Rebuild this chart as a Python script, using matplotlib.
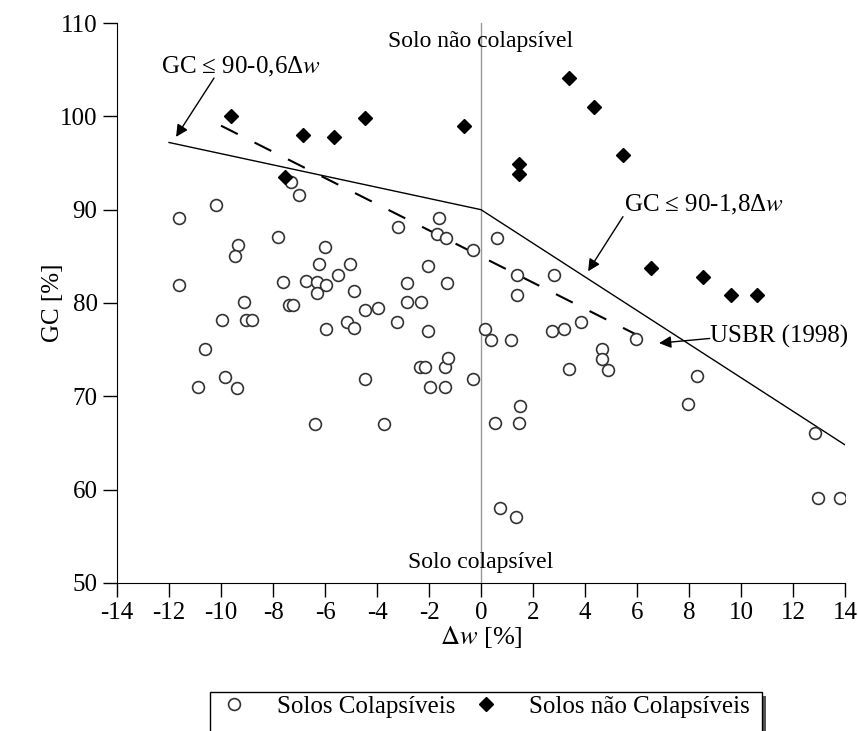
import matplotlib
matplotlib.use("Agg")
import matplotlib.pyplot as plt
from matplotlib.patches import Rectangle

plt.rcParams['font.family'] = ['Liberation Serif', 'DejaVu Serif']
plt.rcParams['mathtext.fontset'] = 'stix'
plt.rcParams['axes.unicode_minus'] = False

###### Data: moisture deviation (dw) vs compaction degree (GC)
colap_dw = [-11.6, -11.6, -10.2, -10.6, -10.9, -9.85, -9.4, -9.95, -9.35, -9.45,
            -9.1, -9.05, -8.8, -7.8, -7.6, -7.4, -7.25, -7.3, -7.0, -6.75,
            -6.3, -6.3, -6.25, -6.0, -5.95, -5.5, -5.05, -4.9, -5.15, -4.9,
            -5.95, -6.4, -4.45, -3.95, -4.45, -3.25, -3.2, -3.75, -2.85, -2.85,
            -2.3, -2.35, -2.15, -2.05, -2.05, -1.95, -1.6, -1.7, -1.35, -1.3,
            -1.4, -1.25, -1.4, -0.3, -0.3, 0.6, 0.15, 0.4, 1.15, 1.4,
            1.4, 2.8, 2.75, 3.2, 3.85, 1.5, 0.55, 1.45, 0.75, 1.35,
            3.4, 4.65, 4.65, 4.9, 5.95, 8.3, 7.95, 12.85, 12.95, 13.8]
colap_gc = [89.1, 81.9, 90.5, 75.1, 71.0, 72.1, 70.9, 78.2, 86.2, 85.0,
            80.1, 78.2, 78.2, 87.1, 82.2, 79.8, 79.8, 93.0, 91.6, 82.4,
            82.2, 81.1, 84.2, 86.0, 81.9, 83.0, 84.2, 81.3, 78.0, 77.3,
            77.2, 67.0, 79.3, 79.5, 71.9, 78.0, 88.1, 67.0, 82.1, 80.1,
            80.1, 73.1, 73.1, 84.0, 77.0, 71.0, 89.1, 87.4, 87.0, 82.1,
            73.1, 74.1, 71.0, 71.9, 85.7, 87.0, 77.2, 76.0, 76.0, 83.0,
            80.9, 83.0, 77.0, 77.2, 78.0, 69.0, 67.1, 67.1, 58.0, 57.1,
            72.9, 75.1, 74.0, 72.8, 76.1, 72.2, 69.2, 66.1, 59.1, 59.1]

ncolap_dw = [-9.6, -6.85, -5.65, -4.45, -0.65, -7.55, 1.45, 1.45, 3.4, 4.35,
             5.45, 6.55, 8.55, 9.6, 10.6]
ncolap_gc = [100.0, 97.95, 97.8, 99.8, 98.95, 93.5, 94.9, 93.8, 104.1, 101.0,
             95.9, 83.8, 82.8, 80.9, 80.9]

# proposed limit: GC <= 90-0,6dw (dw<0) and GC <= 90-1,8dw (dw>0)
limit_dw = [-12, 0, 14]
limit_gc = [97.2, 90, 64.8]
# USBR (1998) criterion
usbr_dw = [-10, 6.7]
usbr_gc = [99.0, 75.6]

x_ticks = list(range(-14, 15, 2))
y_ticks = list(range(50, 111, 10))

##### Plotting
W, H = 858, 731
fig = plt.figure(figsize=(W / 100, H / 100), dpi=100)
ax = fig.add_axes([0.1364, 0.2025, 0.8484, 0.766])

ax.axvline(0, color='#999999', lw=1.0, zorder=1)
ax.plot(limit_dw, limit_gc, color='black', lw=1.0, zorder=2)
ax.plot(usbr_dw, usbr_gc, color='black', lw=1.5, dashes=(9, 9), zorder=2)
h1, = ax.plot(colap_dw, colap_gc, 'o', ms=8.5, mfc='white', mec='#333333', mew=1.2,
              ls='none', zorder=3, label='Solos Colapsíveis')
h2, = ax.plot(ncolap_dw, ncolap_gc, 'D', ms=7, color='black', ls='none', zorder=3,
              label='Solos não Colapsíveis')

ax.set_xlim(-14, 14)
ax.set_ylim(50, 110)
ax.set_xticks(x_ticks)
ax.set_yticks(y_ticks)
ax.tick_params(direction='out', length=10, width=1, labelsize=18, pad=4)
for s in ['top', 'right']:
    ax.spines[s].set_visible(False)

ax.set_xlabel(r'$\Delta w$ [%]', fontsize=19, labelpad=0)
ax.set_ylabel('GC [%]', fontsize=18, labelpad=-3)

ax.text(0, 108.0, 'Solo não colapsível', ha='center', va='center', fontsize=17)
ax.text(0, 52.2, 'Solo colapsível', ha='center', va='center', fontsize=17)

# labels and their arrows
arr = dict(arrowstyle='-|>', color='black', lw=1.0, mutation_scale=18,
           shrinkA=0, shrinkB=0)
ax.text(-12.3, 105.3, 'GC ≤ 90-0,6Δ$w$', fontsize=18, va='center', ha='left')
ax.annotate('', xy=(-11.73, 97.8), xytext=(-10.27, 104.1), arrowprops=arr)
ax.text(5.5, 90.5, 'GC ≤ 90-1,8Δ$w$', fontsize=18, va='center', ha='left')
ax.annotate('', xy=(4.12, 83.4), xytext=(5.46, 89.25), arrowprops=arr)
ax.text(8.8, 76.4, 'USBR (1998)', fontsize=18, va='center', ha='left')
ax.annotate('', xy=(6.85, 75.7), xytext=(8.8, 76.2), arrowprops=arr)

# legend: entries near the top of a box that runs off the bottom edge
leg = fig.legend(handles=[h1, h2], loc='upper center', bbox_to_anchor=(0.5664, 1 - 695 / H),
                 ncol=2, fontsize=18, frameon=False, borderpad=0, borderaxespad=0,
                 handletextpad=1.24, columnspacing=0.76, handlelength=0.96)
leg.set_zorder(6)
fig.canvas.draw()
bb = leg.get_window_extent()
x0, x1 = bb.x0 - 12, bb.x1 + 12
top = H - 692
fig.patches.append(Rectangle(((x0 + 4) / W, -0.1), (x1 - x0) / W, (top - 4) / H + 0.1,
                             transform=fig.transFigure, facecolor='#555555',
                             edgecolor='none', zorder=4))
fig.patches.append(Rectangle((x0 / W, -0.1), (x1 - x0) / W, top / H + 0.1,
                             transform=fig.transFigure, facecolor='white',
                             edgecolor='black', lw=1.0, zorder=5))

plt.savefig('out.png', dpi=100)
